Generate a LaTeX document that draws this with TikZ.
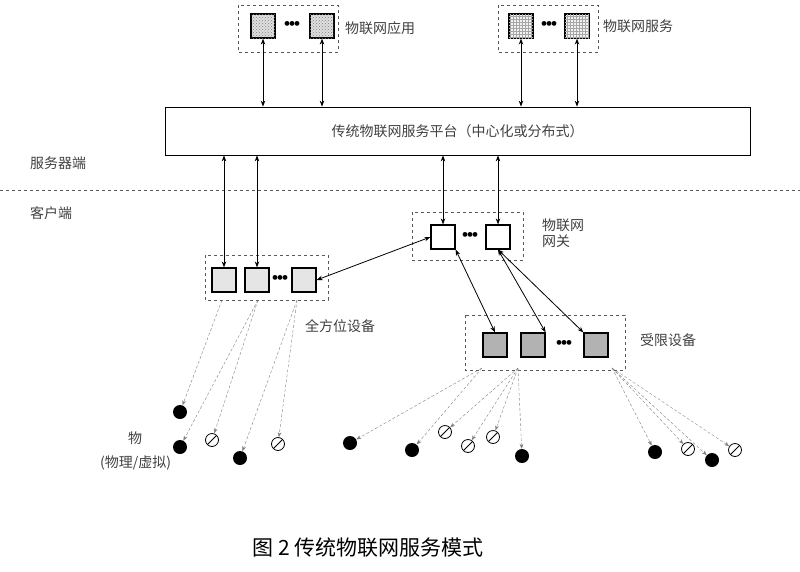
\documentclass[tikz,border=0pt]{standalone}
\usepackage{fontspec}
\setmainfont{Liberation Serif}
\newfontfamily\cjk{Noto Sans CJK SC}
\usetikzlibrary{positioning,calc,patterns,arrows.meta}
\tikzset{
  sq/.style={draw,line width=1.2pt,minimum size=24pt,inner sep=0pt},
  grp/.style={draw,dashed,line width=1pt,gray!70!black},
  lab/.style={font=\cjk\fontsize{14}{16}\selectfont,text=black!75,anchor=west,inner sep=0pt},
  link/.style={thick,{Stealth[length=6pt]}-{Stealth[length=6pt]}},
  obs/.style={gray,densely dashed,-{Stealth[length=5pt]}},
  blk/.style={circle,fill=black,minimum size=14pt,inner sep=0pt},
  hat/.style={circle,draw,thick,minimum size=13pt,inner sep=0pt,
    path picture={\draw[thick] (path picture bounding box.north east) -- (path picture bounding box.south west);}},
  dots/.style={font=\fontsize{20}{20}\selectfont,inner sep=0pt}
}
\newcommand{\tripledot}{\textbullet\kern-2pt\textbullet\kern-2pt\textbullet}
\begin{document}
\begin{tikzpicture}[x=1pt,y=-1pt]
\useasboundingbox (0,0) rectangle (800,571);
% top groups
\draw[grp] (238,5) rectangle (338,52);
\node[sq,fill=gray!25,postaction={pattern=crosshatch dots,pattern color=gray}] (app1) at (263,26) {};
\node[sq,fill=gray!25,postaction={pattern=crosshatch dots,pattern color=gray}] (app2) at (322,26) {};
\node[dots] at (292,26) {\tripledot};
\node[lab] (applab) at (345,28) {物联网应用};
\draw[grp] (498,5) rectangle (598,52);
\node[sq,fill=gray!10,postaction={pattern=grid,pattern color=gray!70}] (srv1) at (521,26) {};
\node[sq,fill=gray!10,postaction={pattern=grid,pattern color=gray!70}] (srv2) at (577,26) {};
\node[dots] at (549,26) {\tripledot};
\node[lab] (srvlab) at (603,26) {物联网服务};
% platform
\node[draw,thick,minimum width=585pt,minimum height=48pt,font=\cjk\fontsize{14}{16}\selectfont,text=black!75] (plat) at (457.5,131) {传统物联网服务平台（中心化或分布式）};
\node[lab] at (30,163) {服务器端};
\draw[dashed,thick,gray!70!black] (0,190) -- (800,190);
\node[lab] at (30,213) {客户端};
\draw[link] (app1 |- plat.north) -- (app1.south);
\draw[link] (app2 |- plat.north) -- (app2.south);
\draw[link] (srv1 |- plat.north) -- (srv1.south);
\draw[link] (srv2 |- plat.north) -- (srv2.south);
% gateway
\draw[grp] (412,212) rectangle (523,260);
\node[sq] (gw1) at (443,237) {};
\node[sq] (gw2) at (498,237) {};
\node[dots] at (470,237) {\tripledot};
\node[lab,align=left] at (542,233) {物联网\\网关};
% omni devices
\draw[grp] (205,255) rectangle (328,300);
\node[sq,fill=gray!20] (om1) at (224,280) {};
\node[sq,fill=gray!20] (om2) at (257,280) {};
\node[sq,fill=gray!20] (om3) at (304,280) {};
\node[dots] at (280,280) {\tripledot};
\node[lab] at (305,326) {全方位设备};
% constrained devices
\draw[grp] (465,315) rectangle (625,370);
\node[sq,fill=gray!60] (cd1) at (495,345) {};
\node[sq,fill=gray!60] (cd2) at (533,345) {};
\node[sq,fill=gray!60] (cd3) at (596,345) {};
\node[dots] at (564,345) {\tripledot};
\node[lab] at (640,340) {受限设备};
% links
\draw[link] (plat.south -| om1) -- (om1.north);
\draw[link] (plat.south -| om2) -- (om2.north);
\draw[link] (plat.south -| gw1) -- (gw1.north);
\draw[link] (plat.south -| gw2) -- (gw2.north);
\draw[link] (gw1.west) -- (om3.east);
\draw[link] (gw1.south east) -- (cd1.north);
\draw[link] (gw2.south) -- (cd2.north east);
\draw[link] (gw2.south) -- (cd3.north west);
% things
\node[blk] (t1) at (180,412) {};
\node[blk] (t2) at (180,447) {};
\node[hat] (t3) at (212,440) {};
\node[blk] (t4) at (240,458) {};
\node[hat] (t5) at (278,444) {};
\node[blk] (t6) at (350,443) {};
\node[blk] (t7) at (412,450) {};
\node[hat] (t8) at (445,432) {};
\node[hat] (t9) at (468,446) {};
\node[hat] (t10) at (493,437) {};
\node[blk] (t11) at (522,456) {};
\node[blk] (t12) at (655,452) {};
\node[hat] (t13) at (688,449) {};
\node[blk] (t14) at (712,460) {};
\node[hat] (t15) at (735,450) {};
\coordinate (o1) at (222,300);
\coordinate (o2) at (258,300);
\coordinate (o3) at (297,300);
\coordinate (c1) at (482,368);
\coordinate (c2) at (518,368);
\coordinate (c3) at (612,368);
\draw[obs] (o1) -- (t1);
\draw[obs] (o2) -- (t2);
\draw[obs] (o2) -- (t3);
\draw[obs] (o3) -- (t4);
\draw[obs] (o3) -- (t5);
\draw[obs] (c1) -- (t6);
\draw[obs] (c1) -- (t7);
\draw[obs] (c2) -- (t8);
\draw[obs] (c2) -- (t9);
\draw[obs] (c2) -- (t10);
\draw[obs] (c2) -- (t11);
\draw[obs] (c3) -- (t12);
\draw[obs] (c3) -- (t13);
\draw[obs] (c3) -- (t14);
\draw[obs] (c3) -- (t15);
\node[lab] at (128,438) {物};
\node[lab] at (100,463) {(物理/虚拟)};
% caption
\node[font=\cjk\fontsize{21}{24}\selectfont] (cap) at (368,548) {图 2 传统物联网服务模式};
\end{tikzpicture}
\end{document}
